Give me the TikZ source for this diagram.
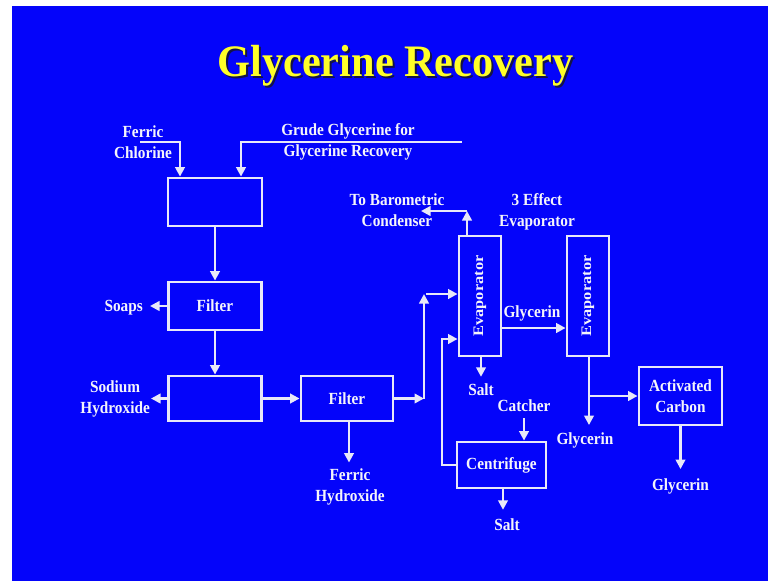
\documentclass[tikz,border=0pt]{standalone}
\usepackage{fontspec}
\setmainfont{Liberation Serif}[FakeStretch=0.9]
\newfontfamily\titlefont{Liberation Serif}[FakeStretch=0.94]
\newfontfamily\rotfont{Liberation Serif}[FakeStretch=1.13]
\usetikzlibrary{arrows.meta}
\definecolor{bgblue}{RGB}{4,4,250}
\definecolor{lnwhite}{RGB}{232,232,248}
\definecolor{txtwhite}{RGB}{245,245,250}
\definecolor{ttlyellow}{RGB}{255,255,40}
\definecolor{ttlshadow}{RGB}{20,20,70}
\begin{document}
\begin{tikzpicture}[x=1pt,y=-1pt,
  box/.style={draw=lnwhite, line width=2.8pt, inner sep=0pt, text=txtwhite,
    font=\bfseries\fontsize{17}{21}\selectfont, align=center},
  lbl/.style={text=txtwhite, font=\bfseries\fontsize{17}{21}\selectfont, align=center, inner sep=2pt},
  arr/.style={draw=lnwhite, line width=2.5pt, -{Triangle[length=9.5pt,width=9.5pt]}},
  ttl/.style={font=\titlefont\bfseries\fontsize{45}{50}\selectfont, inner sep=0pt}]
\fill[white] (0,0) rectangle (768,581);
\fill[bgblue] (12,6) rectangle (768,581);
\useasboundingbox (0,0) rectangle (768,581);

% title
\node[ttl, text=ttlshadow] (tshadow) at (397.5,68) {Glycerine Recovery};
\node[ttl, text=ttlyellow] (title) at (395.5,66) {Glycerine Recovery};

% boxes
\node[box, minimum width=94pt, minimum height=48pt] (b1) at (215,202) {};
\node[box, minimum width=93pt, minimum height=48pt] (f1) at (215,306) {Filter};
\node[box, minimum width=93pt, minimum height=45pt] (b3) at (215,398.5) {};
\node[box, minimum width=92pt, minimum height=45pt] (f2) at (347,398.5) {Filter};
\node[box, minimum width=42pt, minimum height=120pt] (e1) at (480,296)
  {\rotatebox{90}{\rotfont\bfseries\fontsize{14.5}{17}\selectfont Evaporator}};
\node[box, minimum width=42pt, minimum height=120pt] (e2) at (588,296)
  {\rotatebox{90}{\rotfont\bfseries\fontsize{14.5}{17}\selectfont Evaporator}};
\node[box, minimum width=89pt, minimum height=46pt] (cf) at (501.5,465) {Centrifuge};
\node[box, minimum width=83pt, minimum height=58pt] (ac) at (680.5,396) {Activated\\Carbon};

% labels
\node[lbl] (ferric) at (143,142) {Ferric\\Chlorine};
\node[lbl] (grude) at (348,142) {Grude Glycerine for\\Glycerine Recovery};
\node[lbl, anchor=east, inner sep=7pt] (soaps) at (150,308) {Soaps};
\node[lbl, anchor=east, inner sep=1pt] (sodium) at (151,398.5) {Sodium\\Hydroxide};
\node[lbl] (ferrichyd) at (350,487) {Ferric\\Hydroxide};
\node[lbl] (tobaro) at (397,210) {To Barometric\\Condenser};
\node[lbl] (effect) at (537,211.5) {3 Effect\\Evaporator};
\node[lbl] (salt1) at (481,390) {Salt};
\node[lbl] (catcher) at (524,406) {Catcher};
\node[lbl] (salt2) at (507,525) {Salt};
\node[lbl] (glyc1) at (532,313) {Glycerin};
\node[lbl] (glyc2) at (585,440) {Glycerin};
\node[lbl] (glyc3) at (680.5,486) {Glycerin};

% helper coordinates
\coordinate (c1) at (140,142);
\coordinate (c2) at (462,142);
\coordinate (j1) at (424,398.5);
\coordinate (j2) at (424,294);
\coordinate (j3) at (467,211);
\coordinate (j4) at (421,211);
\coordinate (j5) at (442,339);

% connectors
\draw[arr] (c1) -| ([xshift=-35pt]b1.north);
\draw[arr] (c2) -| ([xshift=26pt]b1.north);
\draw[arr] (b1) -- (f1);
\draw[arr] (f1.west) -- (soaps.east |- f1.west);
\draw[arr] (f1) -- (b3);
\draw[arr] (b3.west) -- (sodium.east);
\draw[arr] (b3) -- (f2);
\draw[arr] ([xshift=2pt]f2.south) -- ([xshift=2pt,yshift=4pt]f2.south |- ferrichyd.north);
\draw[arr] (f2.east) -- (j1);
\draw[arr] (j1) -- (j2);
\draw[arr] ([xshift=2pt]j2) -- (e1.west |- j2);
\draw[arr] (e1.north -| j3) -- (j3);
\draw[arr] (j3) -- (j4);
\draw[arr] ([xshift=1pt]e1.south) -- ([yshift=5pt]salt1.north);
\draw[arr] (cf.west) -| (j5) -- (e1.west |- j5);
\draw[arr] ([yshift=-4pt]catcher.south) -- (catcher.south |- cf.north);
\draw[arr] ([xshift=1.5pt]cf.south) -- ([xshift=1.5pt,yshift=7pt]cf.south |- salt2.north);
\draw[arr] ([yshift=-32pt]e1.east) -- ([yshift=-32pt]e2.west);
\draw[arr] ([xshift=1pt]e2.south) -- ([xshift=1pt,yshift=5pt]e2.south |- glyc2.north);
\draw[arr] ([xshift=1pt]e2.south |- ac.west) -- (ac.west);
\draw[arr] (ac.south) -- ([yshift=7pt]glyc3.north);
\end{tikzpicture}
\end{document}
